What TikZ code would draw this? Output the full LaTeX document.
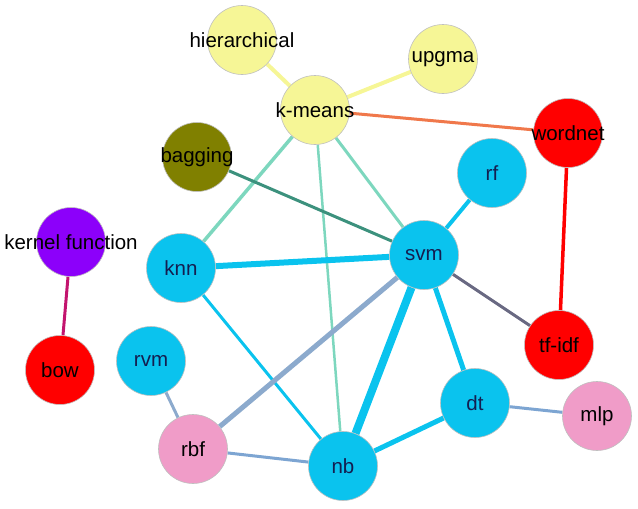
\documentclass[tikz,border=0pt]{standalone}
\usepackage{fontspec}
\setmainfont{Liberation Sans}
\usetikzlibrary{backgrounds}
\definecolor{cy}{RGB}{10,195,238}
\definecolor{yl}{RGB}{246,246,150}
\definecolor{rd}{RGB}{255,0,0}
\definecolor{ol}{RGB}{128,128,0}
\definecolor{pu}{RGB}{140,0,250}
\definecolor{pk}{RGB}{240,156,200}
\definecolor{navy}{RGB}{20,30,80}
\definecolor{eaq}{RGB}{125,215,190}
\definecolor{eor}{RGB}{240,120,75}
\definecolor{eteal}{RGB}{60,145,125}
\definecolor{emag}{RGB}{195,20,110}
\definecolor{egr}{RGB}{105,105,130}
\definecolor{esb}{RGB}{140,170,205}
\definecolor{esb2}{RGB}{125,165,210}
\tikzset{
  vtx/.style={circle, minimum size=69pt, inner sep=0pt, draw=black!25, line width=0.6pt},
  cyv/.style={vtx, fill=cy, label={[text=navy]center:#1}},
  ylv/.style={vtx, fill=yl, label={center:#1}},
  rdv/.style={vtx, fill=rd, label={center:#1}},
  olv/.style={vtx, fill=ol, label={center:#1}},
  puv/.style={vtx, fill=pu, label={center:#1}},
  pkv/.style={vtx, fill=pk, label={center:#1}},
  every label/.style={font=\fontsize{20.5}{24}\selectfont},
  edge/.style={line width=#1},
}
\begin{document}
\begin{tikzpicture}[x=1pt,y=-1pt]
\useasboundingbox (0,0) rectangle (638,509);
\node[ylv=hierarchical] (hier) at (242,40) {};
\node[ylv=upgma] (upgma) at (443,59) {};
\node[ylv=k-means] (kmeans) at (315,110) {};
\node[rdv=wordnet] (wordnet) at (568,133) {};
\node[olv=bagging] (bagging) at (197,157) {};
\node[cyv=rf] (rf) at (492,173) {};
\node[puv=kernel function] (kernel) at (71,242) {};
\node[cyv=knn] (knn) at (181,268) {};
\node[cyv=svm] (svm) at (424,255) {};
\node[rdv=tf-idf] (tfidf) at (559,345) {};
\node[rdv=bow] (bow) at (60,370) {};
\node[cyv=rvm] (rvm) at (151,361) {};
\node[cyv=dt] (dt) at (475,403) {};
\node[pkv=mlp] (mlp) at (597,416) {};
\node[pkv=rbf] (rbf) at (193,449) {};
\node[cyv=nb] (nb) at (343,466) {};
\begin{pgfonlayer}{background}
\draw[yl, edge=4pt] (hier) -- (kmeans);
\draw[yl, edge=4pt] (upgma) -- (kmeans);
\draw[eor, edge=3pt] (kmeans) -- (wordnet);
\draw[eaq, edge=3.5pt] (kmeans) -- (knn);
\draw[eaq, edge=3pt] (kmeans) -- (svm);
\draw[eaq, edge=2.5pt] (kmeans) -- (nb);
\draw[eteal, edge=3pt] (bagging) -- (svm);
\draw[rd, edge=3.5pt] (wordnet) -- (tfidf);
\draw[emag, edge=3pt] (kernel) -- (bow);
\draw[cy, edge=4pt] (rf) -- (svm);
\draw[cy, edge=6pt] (knn) -- (svm);
\draw[cy, edge=3pt] (knn) -- (nb);
\draw[egr, edge=3pt] (svm) -- (tfidf);
\draw[cy, edge=5pt] (svm) -- (dt);
\draw[cy, edge=8pt] (svm) -- (nb);
\draw[esb, edge=5pt] (svm) -- (rbf);
\draw[cy, edge=5pt] (dt) -- (nb);
\draw[esb2, edge=3pt] (dt) -- (mlp);
\draw[esb, edge=3pt] (rvm) -- (rbf);
\draw[esb2, edge=3pt] (rbf) -- (nb);
\end{pgfonlayer}
\end{tikzpicture}
\end{document}
